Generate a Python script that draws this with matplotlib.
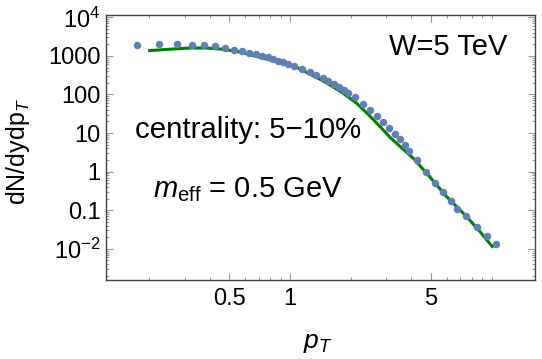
import matplotlib
matplotlib.use("Agg")
import matplotlib.pyplot as plt
from matplotlib.ticker import FixedLocator, NullFormatter

plt.rcParams['font.family'] = ['Liberation Sans', 'DejaVu Sans']
plt.rcParams['mathtext.fontset'] = 'custom'
plt.rcParams['mathtext.rm'] = 'Liberation Sans'
plt.rcParams['mathtext.it'] = 'Liberation Sans:italic'
plt.rcParams['mathtext.bf'] = 'Liberation Sans:bold'

# data points (pT, dN/dydpT)
pt_data = [0.175, 0.225, 0.275, 0.325, 0.375, 0.425, 0.475, 0.525, 0.575, 0.625,
           0.675, 0.725, 0.775, 0.825, 0.875, 0.925, 0.975,
           1.05, 1.15, 1.25, 1.35, 1.45, 1.55, 1.65, 1.75, 1.85, 1.95,
           2.1, 2.3, 2.5, 2.7, 2.9, 3.1, 3.3, 3.5, 3.7, 3.9,
           4.25, 4.75, 5.25, 5.75, 6.25, 6.75,
           7.5, 8.5, 9.5, 10.5]
yield_data = [1892, 2033, 2033, 1973, 1882, 1753, 1583, 1422, 1316, 1203,
              1100, 994, 920, 841, 751, 675, 606,
              538, 458, 390, 324, 263, 224, 187, 158, 131, 109,
              83.6, 58.4, 40.4, 28.2, 19.6, 13.6, 9.48, 6.83, 4.83, 3.40,
              1.99, 0.97, 0.51, 0.292, 0.174, 0.111,
              0.069, 0.0369, 0.0220, 0.0136]

# model curve
pt_model = [0.198, 0.264, 0.319, 0.386, 0.467, 0.565, 0.796, 1.08, 1.232, 1.381,
            1.61, 1.838, 2.142, 2.493, 2.901, 3.131, 4.086, 4.762, 5.981, 7.518,
            8.75, 10.18]
yield_model = [1365, 1510, 1602, 1602, 1483, 1262, 783, 507, 354, 263,
               166, 107, 59.2, 27.5, 12.0, 7.78, 2.22, 0.91, 0.225, 0.0683,
               0.0279, 0.0107]

ytick_vals = [1e-2, 0.1, 1, 10, 100, 1000, 1e4]
ytick_labels = ['$10^{-2}$', '0.1', '1', '10', '100', '1000', '$10^{4}$']
xtick_vals = [0.5, 1, 5]
xtick_labels = ['0.5', '1', '5']

W, H = 542, 359
fig = plt.figure(figsize=(W / 100, H / 100), dpi=100)
ax = fig.add_axes([106 / W, 1 - 280 / H, (535 - 106) / W, (280 - 15.3) / H])

ax.plot(pt_model, yield_model, color='#008000', lw=2.2, zorder=2, solid_capstyle='butt')
ax.plot(pt_data, yield_data, 'o', color='#5E81B5', ms=5.4, mew=0, zorder=3)

ax.set_xscale('log')
ax.set_yscale('log')
ax.set_xlim(0.1224, 16.4)
ax.set_ylim(1.56e-3, 1.127e4)

ax.xaxis.set_major_locator(FixedLocator(xtick_vals))
ax.set_xticklabels(xtick_labels)
xminor = [0.2, 0.3, 0.4, 0.6, 0.7, 0.8, 0.9, 2, 3, 4, 6, 7, 8, 9, 10]
ax.xaxis.set_minor_locator(FixedLocator(xminor))
ax.xaxis.set_minor_formatter(NullFormatter())

ax.yaxis.set_major_locator(FixedLocator(ytick_vals))
ax.set_yticklabels(ytick_labels)
yminor = []
for e in range(-3, 5):
    for m in range(2, 10):
        v = m * 10.0 ** e
        if 1.56e-3 <= v <= 1.127e4:
            yminor.append(v)
ax.yaxis.set_minor_locator(FixedLocator(yminor))
ax.yaxis.set_minor_formatter(NullFormatter())

ax.tick_params(which='both', direction='in', top=True, right=True, color='#999999', width=0.8)
ax.tick_params(which='major', length=5)
ax.tick_params(which='minor', length=2.5)
ax.tick_params(axis='x', which='major', labelsize=17, pad=6)
ax.tick_params(axis='y', which='major', labelsize=17, pad=4)
for s in ax.spines.values():
    s.set_color('#444444')
    s.set_linewidth(1.0)

fig.text(507 / W, 1 - 55 / H, 'W=5 TeV', fontsize=21, ha='right', va='baseline')
fig.text(135 / W, 1 - 138.3 / H, 'centrality: 5\u221210%', fontsize=21.2, ha='left', va='baseline')
fig.text(153 / W, 1 - 196.7 / H, r'$m_{\mathrm{eff}}$ = 0.5 GeV', fontsize=21, ha='left', va='baseline')

fig.text(18 / W, 1 - 151 / H, r'dN/dydp$_{T}$', fontsize=18, rotation=90, ha='center', va='center')
fig.text(318 / W, 1 - 343 / H, r'$p_T$', fontsize=19, ha='center', va='center')

fig.savefig('out.png', dpi=100)
